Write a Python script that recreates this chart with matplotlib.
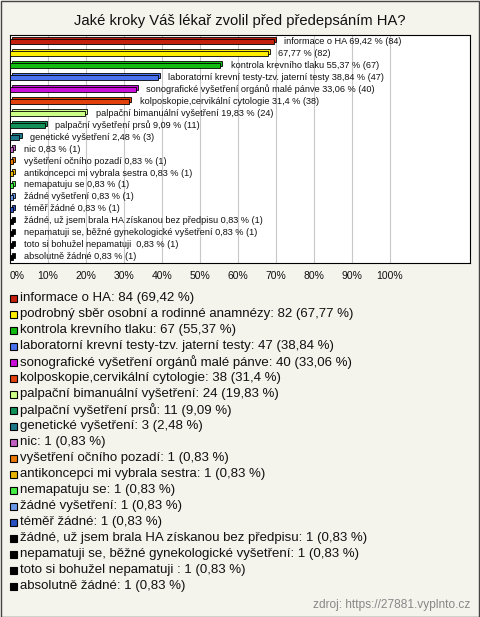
import matplotlib
matplotlib.use("Agg")
import matplotlib.pyplot as plt
from matplotlib.patches import Rectangle

plt.rcParams['font.family'] = ['Liberation Sans', 'DejaVu Sans']

# data
kategorie = [
    "informace o HA",
    "podrobný sběr osobní a rodinné anamnézy",
    "kontrola krevního tlaku",
    "laboratorní krevní testy-tzv. jaterní testy",
    "sonografické vyšetření orgánů malé pánve",
    "kolposkopie,cervikální cytologie",
    "palpační bimanuální vyšetření",
    "palpační vyšetření prsů",
    "genetické vyšetření",
    "nic",
    "vyšetření očního pozadí",
    "antikoncepci mi vybrala sestra",
    "nemapatuju se",
    "žádné vyšetření",
    "téměř žádné",
    "žádné, už jsem brala HA získanou bez předpisu",
    "nepamatuji se, běžné gynekologické vyšetření",
    "toto si bohužel nepamatuji ",
    "absolutně žádné",
]
pocty = [84, 82, 67, 47, 40, 38, 24, 11, 3, 1, 1, 1, 1, 1, 1, 1, 1, 1, 1]
procenta = [69.42, 67.77, 55.37, 38.84, 33.06, 31.4, 19.83, 9.09, 2.48,
            0.83, 0.83, 0.83, 0.83, 0.83, 0.83, 0.83, 0.83, 0.83, 0.83]
barvy = ["#c4200e", "#ffee00", "#11bb11", "#4a72ee", "#c810d8", "#e2400c",
         "#ccff88", "#119058", "#1c7888", "#c060c0", "#e87800", "#e8b400",
         "#44ee44", "#6a98e8", "#2850c0", "#000000", "#000000", "#000000",
         "#000000"]
tick_hodnoty = list(range(0, 101, 10))

W, H = 480, 617
bg = "#f4f3ec"


def fx(px):
    return px / W


def fy(py):
    return 1 - py / H


def fmt(p):
    return f"{p:g}".replace(".", ",")


fig = plt.figure(figsize=(W / 100, H / 100), dpi=100, facecolor=bg)

# outer frame
fig.patches.append(Rectangle((fx(0.5), fy(616.5)), fx(478.5), 616 / H,
                             transform=fig.transFigure, fill=False,
                             edgecolor="#444444", linewidth=1))

fig.text(0.5, fy(21), "Jaké kroky Váš lékař zvolil před předepsáním HA?",
         ha="center", va="center", fontsize=10.6, color="#111111")

ax = fig.add_axes([fx(10), fy(263), fx(460), (263 - 35) / H])
ax.set_facecolor("white")
ax.set_xlim(0, 460 / 3.8)
ax.set_ylim(len(kategorie) - 0.5, -0.5)
for s in ax.spines.values():
    s.set_color("black")
    s.set_linewidth(0.8)

for t in tick_hodnoty[1:]:
    ax.axvline(t, color="#c8c8c8", linewidth=0.8, zorder=0)

ax.set_yticks([])
ax.set_xticks(tick_hodnoty)
ax.set_xticklabels([f"{t}%" for t in tick_hodnoty], fontsize=7.5, color="#111111")
ax.tick_params(axis="x", length=0, pad=6)
ax.get_xticklabels()[0].set_horizontalalignment("left")

y = list(range(len(kategorie)))
h = 0.42
dx, dy = 0.55, 0.17
# back face for the 3d look
ax.barh([v - dy + 0.08 for v in y], procenta, left=dx, height=h, color=barvy,
        edgecolor="black", linewidth=0.6, zorder=2)
ax.barh([v + 0.08 for v in y], procenta, height=h, color=barvy,
        edgecolor="black", linewidth=0.6, zorder=3)

for i, (k, n, p) in enumerate(zip(kategorie, pocty, procenta)):
    nazev = "" if i == 1 else k + " "
    ax.annotate(f"{nazev}{fmt(p)} % ({n})", (p + dx, i), xytext=(6, 0),
                textcoords="offset points", va="center", ha="left",
                fontsize=6.6, color="#111111", zorder=4)

# legend
for i, (k, n, p, c) in enumerate(zip(kategorie, pocty, procenta, barvy)):
    yc = 298 + i * 16
    fig.patches.append(Rectangle((fx(10), fy(yc + 3.5)), fx(7), 7 / H,
                                 transform=fig.transFigure, facecolor=c,
                                 edgecolor="black", linewidth=0.8))
    fig.text(fx(20), fy(yc), f"{k}: {n} ({fmt(p)} %)", ha="left", va="center",
             fontsize=9.5, color="#111111")

fig.text(fx(470), fy(605), "zdroj: https://27881.vyplnto.cz", ha="right",
         va="center", fontsize=8.6, color="#888888")

fig.savefig("out.png", dpi=100, facecolor=bg)
